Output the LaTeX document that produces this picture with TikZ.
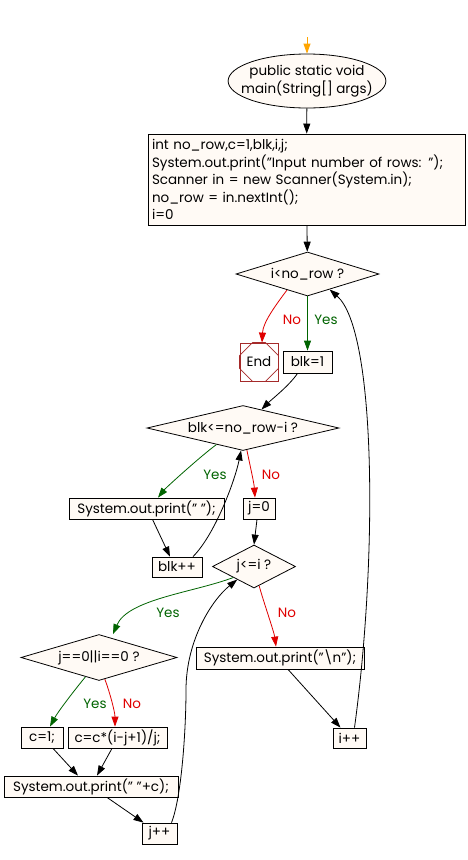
\documentclass[tikz,border=0pt]{standalone}
\usepackage{fontspec}
\setmainfont{Poppins}
\usetikzlibrary{shapes.geometric, arrows.meta}

\definecolor{nodefill}{HTML}{FFFAF5}
\definecolor{yesgreen}{HTML}{006400}
\definecolor{nored}{HTML}{E00000}
\definecolor{endred}{HTML}{A52A2A}
\definecolor{entryorange}{HTML}{FFA500}

\newcommand{\dq}{\symbol{34}}

\begin{document}
\begin{tikzpicture}[x=1pt, y=-1pt, line width=0.8pt,
		font=\fontsize{13.5}{17.5}\selectfont,
		box/.style={draw, fill=nodefill, inner sep=0pt, minimum height=21pt},
		test/.style={draw, fill=nodefill, shape=diamond, inner sep=0pt},
		flow/.style={draw, -{Triangle[length=10pt,width=7pt]}},
		yesflow/.style={flow, yesgreen},
		noflow/.style={flow, nored},
		ylab/.style={text=yesgreen, inner sep=0pt},
		nlab/.style={text=nored, inner sep=0pt}]

		\useasboundingbox[fill=white] (0,0) rectangle (468,860);

		\coordinate (entry) at (307,37);

		\node[draw, fill=nodefill, shape=ellipse, inner xsep=-10pt, inner ysep=0pt, align=center,
			minimum width=156pt, minimum height=54pt] (start) at (307,81)
			{public static void\\main(String[] args)};
		\node[box, align=left, inner sep=4pt, text width=309pt, minimum height=91pt] (init) at (306.5,179.5)
			{int no\_row,c=1,blk,i,j;\\System.out.print(\dq Input number of rows: \dq);\\Scanner in = new Scanner(System.in);\\no\_row = in.nextInt();\\i=0};

		\node[test, aspect=3.25, minimum width=143pt, minimum height=44pt] (q1) at (307.5,274) {i<no\_row ?};
		\node[draw=endred, minimum size=38pt, inner sep=0pt] (endn) at (259,362) {End};
		\node[box, minimum width=49pt, minimum height=22pt] (blk1) at (307.5,362) {blk=1};

		\node[test, aspect=4.3, minimum width=192pt, minimum height=45pt] (q2) at (243,428) {blk<=no\_row-i ?};
		\node[box, minimum width=155pt] (sp) at (146.5,508.5) {System.out.print(\dq\ \dq);};
		\node[box, minimum width=32pt] (j0) at (259,508.5) {j=0};
		\node[box, minimum width=50pt, minimum height=20pt] (blkpp) at (177,567) {blk++};

		\node[test, aspect=1.93, minimum width=83pt, minimum height=43pt] (q3) at (254,566.5) {j<=i ?};
		\node[test, aspect=3.4, minimum width=156pt, minimum height=46pt] (q4) at (99,657.5) {j==0||i==0 ?};
		\node[box, minimum width=168pt, minimum height=22pt] (nl) at (280,658) {System.out.print(\dq\textbackslash n\dq);};
		\node[box, minimum width=33pt, minimum height=20pt] (ipp) at (349.5,738) {i++};

		\node[box, minimum width=42pt] (c1) at (42,737.5) {c=1;};
		\node[box, minimum width=99pt] (cc) at (117.5,737.5) {c=c*(i-j+1)/j;};
		\node[box, minimum width=174pt] (pc) at (91,786.5) {System.out.print(\dq\ \dq+c);};
		\node[box, minimum width=35pt] (jpp) at (159.5,833.5) {j++};

		\draw[endred] ([xshift=-6.5pt]endn.north) -- ([yshift=6.5pt]endn.west) -- ([yshift=-6.5pt]endn.west)
			-- ([xshift=-6.5pt]endn.south) -- ([xshift=6.5pt]endn.south) -- ([yshift=-6.5pt]endn.east)
			-- ([yshift=6.5pt]endn.east) -- ([xshift=6.5pt]endn.north) -- cycle;

		\draw[flow, entryorange] (entry) -- (start.north);
		\draw[flow] (start) -- (init);
		\draw[flow] (init) -- (q1);

		\draw[noflow] (q1.218) .. controls +(-12,16) and +(1,-20) .. ([xshift=3pt]endn.north);
		\draw[yesflow] (q1) -- (blk1);
		\node[nlab] (no1) at (292,320) {No};
		\node[ylab] (yes1) at (326,320) {Yes};

		\draw[flow] ([xshift=-10pt]blk1.south) .. controls +(-8,12) and +(10,-10) .. (q2.45);

		\draw[yesflow] (q2.212) .. controls +(-14,10) and +(8,-10) .. ([xshift=11.5pt]sp.north);
		\draw[noflow] (q2.-80) .. controls +(3,15) and +(-1,-15) .. ([xshift=-4pt]j0.north);
		\node[ylab] (yes2) at (215,475) {Yes};
		\node[nlab] (no2) at (271,475) {No};

		\draw[flow] ([xshift=6pt]sp.south) -- ([xshift=-7pt]blkpp.north);
		\draw[flow] ([xshift=16pt]blkpp.north) .. controls +(22,-22) and +(-6,30) .. (q2.-95);
		\draw[flow] ([xshift=-2pt]j0.south) -- (q3.north);

		\draw[yesflow] (q3.208) .. controls +(-40,15) and +(15,-35) .. ([xshift=14pt]q4.north);
		\draw[noflow] (q3.-75) .. controls +(4,15) and +(-2,-15) .. ([xshift=-4pt]nl.north);
		\node[ylab] (yes3) at (168,613) {Yes};
		\node[nlab] (no3) at (287,613) {No};

		\draw[flow] ([xshift=8pt]nl.south) -- ([xshift=-9pt]ipp.north);
		\draw[flow] ([xshift=5pt]ipp.north) .. controls +(23,-168) and +(47,41) .. (q1.-35);

		\draw[yesflow] (q4.235) .. controls +(-10,12) and +(8,-15) .. ([xshift=8pt]c1.north);
		\draw[noflow] (q4.-75) .. controls +(4,10) and +(0,-15) .. ([xshift=-2.5pt]cc.north);
		\node[ylab] (yes4) at (95,704) {Yes};
		\node[nlab] (no4) at (132,704) {No};

		\draw[flow] ([xshift=11pt]c1.south) -- ([xshift=-13pt]pc.north);
		\draw[flow] ([xshift=-5.5pt]cc.south) -- ([xshift=6pt]pc.north);
		\draw[flow] ([xshift=16pt]pc.south) -- ([xshift=-16pt]jpp.north);
		\draw[flow] ([xshift=12pt]jpp.north) .. controls +(10,-25) and +(0,40) .. (186,690)
			.. controls +(0,-50) and +(-25,20) .. (q3.218);
	\end{tikzpicture}
\end{document}
